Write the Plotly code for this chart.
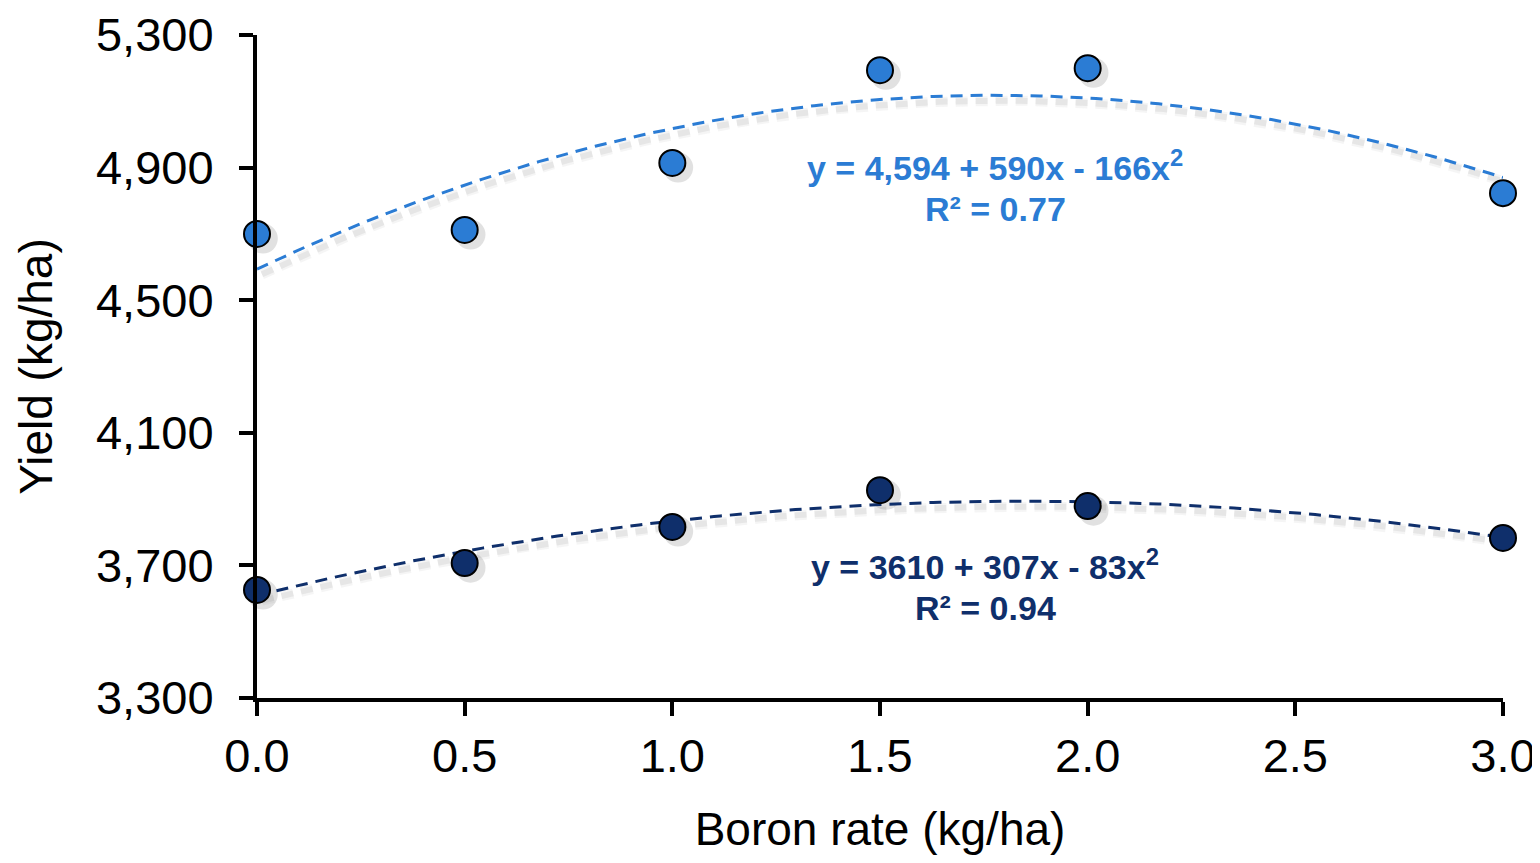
import numpy as np
import plotly.graph_objects as go

# ---- data ----
boron_rate = [0.0, 0.5, 1.0, 1.5, 2.0, 3.0]
yield_upper = [4700, 4712, 4914, 5194, 5200, 4823]
yield_lower = [3626, 3707, 3816, 3927, 3879, 3783]
fit_upper = [4594, 590, -166]   # a + b x + c x^2
fit_lower = [3610, 307, -83]
eq_upper = ["y = 4,594 + 590x - 166x<sup>2</sup>", "R² = 0.77"]
eq_lower = ["y = 3610 + 307x - 83x<sup>2</sup>", "R² = 0.94"]
y_ticks = [3300, 3700, 4100, 4500, 4900, 5300]
x_ticks = [0.0, 0.5, 1.0, 1.5, 2.0, 2.5, 3.0]

c_upper = "#2B7CD4"
c_lower = "#0F2F6B"
FONT = "Liberation Sans, Arial, sans-serif"

xs = np.linspace(0, 3, 200)
fig = go.Figure()

def curve(c):
    return c[0] + c[1] * xs + c[2] * xs ** 2

# shadows (soft gray offset)
for coef in (fit_upper, fit_lower):
    for w, op in ((10, 0.07), (6, 0.12)):
        fig.add_trace(go.Scatter(x=xs + 0.012, y=curve(coef) - 16, mode="lines",
                                 line=dict(color="rgba(120,120,120,%s)" % op, width=w, dash="12px,8px"),
                                 hoverinfo="skip", showlegend=False, cliponaxis=False))
for ys in (yield_upper, yield_lower):
    fig.add_trace(go.Scatter(x=[v + 0.014 for v in boron_rate], y=[v - 14 for v in ys], mode="markers",
                             marker=dict(size=30, color="rgba(120,120,120,0.22)", line=dict(width=0)),
                             hoverinfo="skip", showlegend=False, cliponaxis=False))

fig.add_trace(go.Scatter(x=xs, y=curve(fit_upper), mode="lines",
                         line=dict(color=c_upper, width=3, dash="12px,8px"),
                         showlegend=False, cliponaxis=False))
fig.add_trace(go.Scatter(x=xs, y=curve(fit_lower), mode="lines",
                         line=dict(color=c_lower, width=3, dash="12px,8px"),
                         showlegend=False, cliponaxis=False))
fig.add_trace(go.Scatter(x=boron_rate, y=yield_upper, mode="markers",
                         marker=dict(size=26, color=c_upper, line=dict(color="black", width=2)),
                         showlegend=False, cliponaxis=False))
fig.add_trace(go.Scatter(x=boron_rate, y=yield_lower, mode="markers",
                         marker=dict(size=26, color=c_lower, line=dict(color="black", width=2)),
                         showlegend=False, cliponaxis=False))

ann = []
for (txt, yy) in zip(eq_upper, [4907, 4776]):
    ann.append(dict(x=1.777, y=yy, text="<b>%s</b>" % txt, showarrow=False,
                    font=dict(family=FONT, size=34, color=c_upper), xanchor="center", yanchor="middle"))
for (txt, yy) in zip(eq_lower, [3702, 3571]):
    ann.append(dict(x=1.753, y=yy, text="<b>%s</b>" % txt, showarrow=False,
                    font=dict(family=FONT, size=34, color=c_lower), xanchor="center", yanchor="middle"))

fig.update_layout(
    width=1532, height=847,
    margin=dict(l=249, r=37, t=27, b=157),
    paper_bgcolor="white", plot_bgcolor="white",
    font=dict(family=FONT, color="black"),
    annotations=ann,
    xaxis=dict(range=[0, 3], tickvals=x_ticks, ticktext=["%.1f" % v for v in x_ticks],
               showgrid=False, zeroline=False, showline=True, linecolor="black", linewidth=4,
               ticks="outside", ticklen=14, tickwidth=4, tickcolor="black", automargin=False,
               tickfont=dict(size=47, family=FONT),
               title=dict(text="Boron rate (kg/ha)", font=dict(size=46, family=FONT), standoff=44)),
    yaxis=dict(range=[3300, 5300], tickvals=y_ticks, ticktext=["{:,}".format(v) for v in y_ticks],
               showgrid=False, zeroline=False, showline=True, linecolor="black", linewidth=4,
               ticks="outside", ticklen=14, tickwidth=4, tickcolor="black", automargin=False,
               ticklabelstandoff=16,
               tickfont=dict(size=47, family=FONT),
               title=dict(text="Yield (kg/ha)", font=dict(size=46, family=FONT), standoff=30)),
)

fig.write_html("out.html")
